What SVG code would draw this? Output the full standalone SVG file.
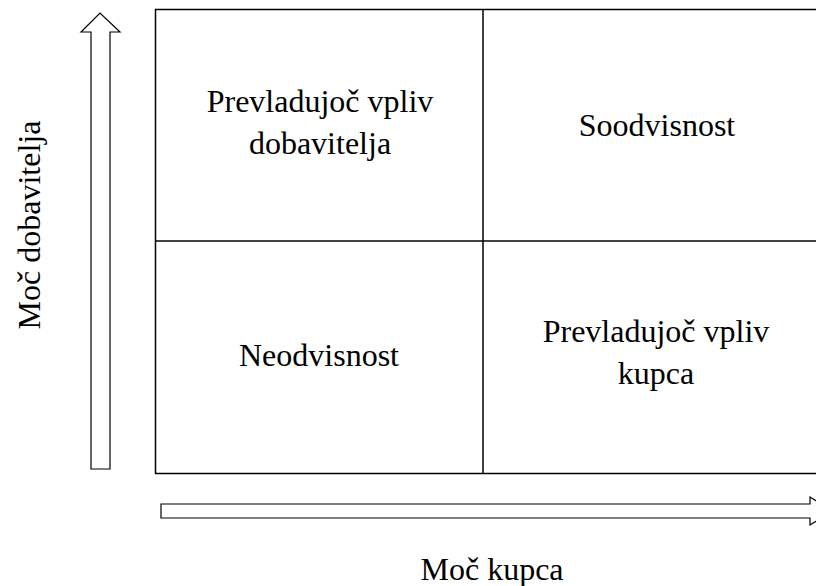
<svg xmlns="http://www.w3.org/2000/svg" width="816" height="586" viewBox="0 0 816 586">
  <style>
    .grid { fill: none; stroke: #000; stroke-width: 1.5; }
    .arrow { fill: #fff; stroke: #000; stroke-width: 1.2; stroke-linejoin: miter; }
    .lbl { font-family: "Liberation Serif", "Times New Roman", serif; font-size: 32px; fill: #000; text-anchor: middle; }
  </style>
  <rect width="816" height="586" fill="#fff"/>

  <!-- axis arrows -->
  <g id="connectors">
    <polygon id="axis-y" class="arrow" points="91,469 110,469 110,32 120,32 100,13 81,32 91,32"/>
    <polygon id="axis-x" class="arrow" points="161,504 810,504 810,497 832,511 810,525 810,518 161,518"/>
  </g>

  <!-- quadrant grid -->
  <g id="grid">
    <rect class="grid" x="155.5" y="9.5" width="680" height="464"/>
    <line class="grid" x1="483" y1="9.5" x2="483" y2="473.5"/>
    <line class="grid" x1="155.5" y1="241" x2="835" y2="241"/>
  </g>

  <g id="q-top-left">
    <text class="lbl" x="320" y="112">Prevladujoč vpliv</text>
    <text class="lbl" x="320" y="154">dobavitelja</text>
  </g>
  <g id="q-top-right">
    <text class="lbl" x="657" y="136">Soodvisnost</text>
  </g>
  <g id="q-bottom-left">
    <text class="lbl" x="319" y="366">Neodvisnost</text>
  </g>
  <g id="q-bottom-right">
    <text class="lbl" x="656" y="342">Prevladujoč vpliv</text>
    <text class="lbl" x="656" y="384">kupca</text>
  </g>

  <g id="label-x">
    <text class="lbl" x="492" y="580">Moč kupca</text>
  </g>
  <g id="label-y">
    <text class="lbl" transform="translate(40,225) rotate(-90)">Moč dobavitelja</text>
  </g>
</svg>
